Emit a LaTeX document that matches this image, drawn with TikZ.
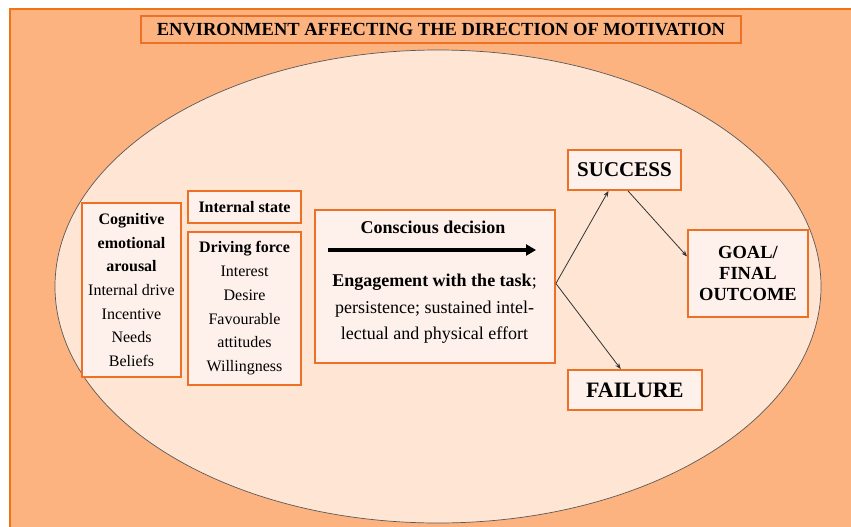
\documentclass[tikz,border=0pt]{standalone}
\usepackage{fontspec}
\setmainfont{Liberation Serif}
\usepackage{tikz}
\usetikzlibrary{arrows.meta, positioning}

\definecolor{envfill}{RGB}{252,179,128}
\definecolor{envline}{RGB}{240,115,20}
\definecolor{ovalfill}{RGB}{254,229,212}
\definecolor{boxfill}{RGB}{254,241,235}
\definecolor{boxline}{RGB}{238,112,36}

\newcommand{\bodyfont}{\fontsize{16}{23.7}\selectfont}

\begin{document}
\begin{tikzpicture}[
			x=1pt, y=-1pt,
			box/.style={rectangle, draw=boxline, line width=1.8pt, fill=boxfill,
				align=center, inner sep=2pt, font=\bodyfont},
			headbox/.style={rectangle, draw=boxline, line width=1.5pt,
				align=center, inner sep=0pt, font=\fontsize{18.5}{22}\selectfont\bfseries},
			outcome/.style={box, inner sep=0pt, font=\bfseries},
			link/.style={-{Stealth[length=6pt, width=4.5pt]}, draw=black!80, line width=0.8pt},
			bigarrow/.style={-{Triangle[length=10pt, width=11pt]}, line width=3.2pt}
			]
			\useasboundingbox (0,0) rectangle (851,527);
			\clip (0,0) rectangle (851,527);

			% environment and the oval inside it
			\draw[envline, line width=2pt, fill=envfill] (10,9.5) rectangle (870,545);
			\draw[black!65, line width=0.7pt, fill=ovalfill] (438,286.5) ellipse [x radius=383pt, y radius=236.5pt];

			\node[headbox, minimum width=600pt, minimum height=27pt] (env) at (441,29.5)
				{ENVIRONMENT AFFECTING THE DIRECTION OF MOTIVATION};

			% left column boxes
			\node[box, minimum width=99pt, minimum height=174pt] (arousal) at (131.5,290)
				{\textbf{Cognitive}\\\textbf{emotional}\\\textbf{arousal}\\Internal drive\\Incentive\\Needs\\Beliefs};
			\node[box, minimum width=113pt, minimum height=32pt, font=\bodyfont\bfseries] (state) at (244.5,207)
				{Internal state};
			\node[box, minimum width=113pt, minimum height=153pt, below=7pt of state] (drive)
				{\textbf{Driving force}\\Interest\\Desire\\Favourable\\attitudes\\Willingness};

			% decision box
			\node[box, minimum width=240pt, minimum height=153pt] (decision) at (435,286.5) {};
			\node[font=\fontsize{18}{22}\selectfont\bfseries] (choice) at (433,227) {Conscious decision};
			\coordinate (arrowL) at (328,250);
			\coordinate (arrowR) at (536,250);
			\draw[bigarrow] (arrowL) -- (arrowR);
			\node[align=center, font=\fontsize{18}{26.5}\selectfont] (task) at (434.5,309)
				{\textbf{Engagement with the task};\\persistence; sustained intel-\\lectual and physical effort};

			% outcomes
			\node[outcome, minimum width=113pt, minimum height=40pt, font=\fontsize{21}{24}\selectfont\bfseries] (success) at (624.5,170) {SUCCESS};
			\node[outcome, minimum width=134pt, minimum height=40pt, font=\fontsize{22}{24}\selectfont\bfseries] (failure) at (634.8,390) {FAILURE};
			\node[outcome, minimum width=120pt, minimum height=87pt, font=\fontsize{18.5}{21.3}\selectfont\bfseries] (goal) at (748,273.5) {GOAL/\\FINAL\\OUTCOME};

			\coordinate (fork) at ([yshift=3pt]decision.east);
			\draw[link] (fork) -- ([xshift=-16pt]success.south);
			\draw[link] (fork) -- ([xshift=-14pt]failure.north);
			\draw[link] ([xshift=3.5pt]success.south) -- ([yshift=17pt]goal.west);
		\end{tikzpicture}
\end{document}
